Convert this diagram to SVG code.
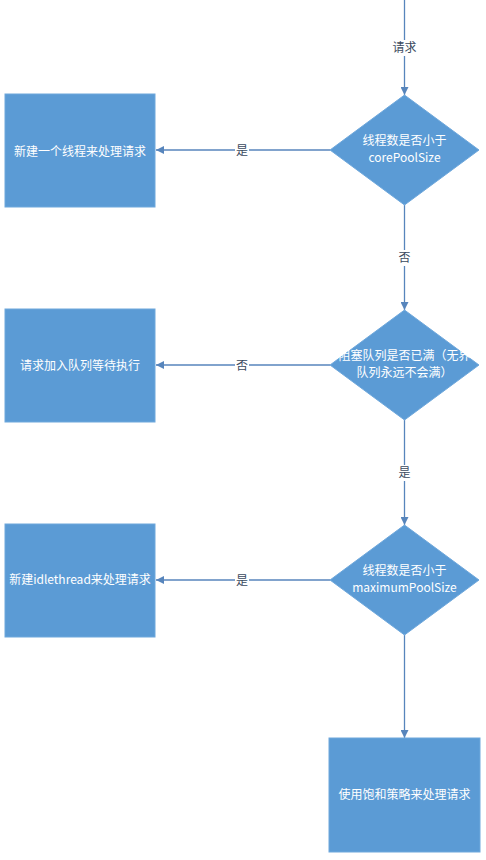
<svg xmlns="http://www.w3.org/2000/svg" width="486" height="860" viewBox="0 0 486 860">
<style>
.shape{fill:#5B9BD5;stroke:#6FA8DC;stroke-width:1}
.t{font-family:"Microsoft YaHei","Noto Sans CJK SC","Noto Sans",sans-serif;font-size:12px;fill:#ffffff;text-anchor:middle}
.edge{stroke:#5785BC;stroke-width:1.3;fill:none}
.lbl{font-family:"Microsoft YaHei","Noto Sans CJK SC","Noto Sans",sans-serif;font-size:12px;fill:#3A4A5E;text-anchor:middle}
.bg{fill:#ffffff}
</style>
<defs>
<marker id="ah" viewBox="0 0 10 10" refX="10" refY="5" markerWidth="8" markerHeight="8" markerUnits="userSpaceOnUse" orient="auto">
<path d="M0,0 L10,5 L0,10 z" fill="#5785BC"/>
</marker>
</defs>
<rect width="486" height="860" fill="#ffffff"/>
<g id="connectors">
<line class="edge" x1="404.5" y1="0" x2="404.5" y2="95" marker-end="url(#ah)"/>
<rect class="bg" x="394" y="40" width="21" height="16"/>
<text class="lbl" x="404.5" y="52">请求</text>
<line class="edge" x1="330" y1="150" x2="156" y2="150" marker-end="url(#ah)"/>
<rect class="bg" x="235" y="143" width="14" height="16"/>
<text class="lbl" x="242" y="155">是</text>
<line class="edge" x1="404.5" y1="205" x2="404.5" y2="310" marker-end="url(#ah)"/>
<rect class="bg" x="397" y="250" width="15" height="16"/>
<text class="lbl" x="404.5" y="262">否</text>
<line class="edge" x1="330" y1="365" x2="156" y2="365" marker-end="url(#ah)"/>
<rect class="bg" x="235" y="358" width="14" height="16"/>
<text class="lbl" x="242" y="370">否</text>
<line class="edge" x1="404.5" y1="420" x2="404.5" y2="525" marker-end="url(#ah)"/>
<rect class="bg" x="397" y="465" width="15" height="16"/>
<text class="lbl" x="404.5" y="477">是</text>
<line class="edge" x1="330" y1="580" x2="156" y2="580" marker-end="url(#ah)"/>
<rect class="bg" x="235" y="573" width="14" height="16"/>
<text class="lbl" x="242" y="585">是</text>
<line class="edge" x1="404.5" y1="635" x2="404.5" y2="738" marker-end="url(#ah)"/>
</g>
<g id="d1">
<polygon class="shape" points="404.5,95 479,150 404.5,205 330,150"/>
<text class="t" x="404.5" y="145">线程数是否小于</text>
<text class="t" x="404.5" y="162">corePoolSize</text>
</g>
<g id="b1">
<rect class="shape" x="5" y="94" width="150" height="113"/>
<text class="t" x="80" y="156">新建一个线程来处理请求</text>
</g>
<g id="d2">
<polygon class="shape" points="404.5,310 479,365 404.5,420 330,365"/>
<text class="t" x="404.5" y="360">阻塞队列是否已满（无界</text>
<text class="t" x="404.5" y="377">队列永远不会满）</text>
</g>
<g id="b2">
<rect class="shape" x="5" y="309" width="150" height="113"/>
<text class="t" x="80" y="370">请求加入队列等待执行</text>
</g>
<g id="d3">
<polygon class="shape" points="404.5,525 479,580 404.5,635 330,580"/>
<text class="t" x="404.5" y="575">线程数是否小于</text>
<text class="t" x="404.5" y="592">maximumPoolSize</text>
</g>
<g id="b3">
<rect class="shape" x="5" y="524" width="150" height="113"/>
<text class="t" x="80" y="584">新建idlethread来处理请求</text>
</g>
<g id="b4">
<rect class="shape" x="329" y="738" width="151" height="114"/>
<text class="t" x="404.5" y="799">使用饱和策略来处理请求</text>
</g>
</svg>
